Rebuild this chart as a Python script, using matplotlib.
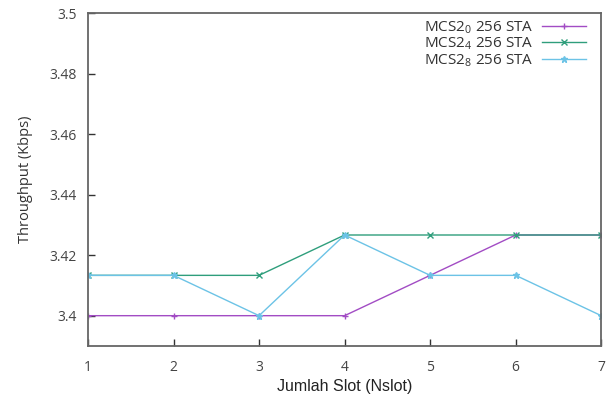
import matplotlib.pyplot as plt

# throughput per number of slots, 256 stations
slots = [1, 2, 3, 4, 5, 6, 7]
mcs0 = [3.4, 3.4, 3.4, 3.4, 3.41333, 3.42667, 3.42667]
mcs4 = [3.41333, 3.41333, 3.41333, 3.42667, 3.42667, 3.42667, 3.42667]
mcs8 = [3.41333, 3.41333, 3.4, 3.42667, 3.41333, 3.41333, 3.4]

labels = ['MCS2$_0$ 256 STA', 'MCS2$_4$ 256 STA', 'MCS2$_8$ 256 STA']
colors = ['#a24cc4', '#2f9e7c', '#6cc3e6']
markers = ['+', 'x', '*']
yticks = [3.4, 3.42, 3.44, 3.46, 3.48, 3.5]

plt.rcParams['font.family'] = ['Open Sans', 'DejaVu Sans']
plt.rcParams['mathtext.fontset'] = 'custom'
plt.rcParams['mathtext.rm'] = 'Open Sans'

fig = plt.figure(figsize=(6.11, 3.99), dpi=100)
ax = fig.add_axes([0.144, 0.133, 0.84, 0.834])

for ys, lab, c, m in zip([mcs0, mcs4, mcs8], labels, colors, markers):
    ax.plot(slots, ys, color=c, marker=m, markersize=5, linewidth=1.0,
            markeredgewidth=1.0, label=lab)

ax.set_xlim(1, 7)
ax.set_ylim(3.39, 3.5)
ax.set_xticks(slots)
ax.set_yticks(yticks)
ax.set_yticklabels([f'{v:g}' for v in yticks])
ax.tick_params(direction='in', length=5, width=1, labelsize=10, colors='#333333',
               labelcolor='#444444')
ax.tick_params(axis='x', pad=10)
ax.tick_params(axis='y', pad=8)
for s in ax.spines.values():
    s.set_color('#666666')
    s.set_linewidth(1.3)

ax.set_xlabel('Jumlah Slot (Nslot)', family='Liberation Sans', fontsize=11.5,
              color='#222222', labelpad=3)
ax.set_ylabel('Throughput (Kbps)', fontsize=10.5, color='#333333', labelpad=12)

ax.legend(loc='upper right', bbox_to_anchor=(586 / 611, 1 - 19 / 399),
          bbox_transform=fig.transFigure, frameon=False, markerfirst=False,
          fontsize=11, handlelength=2.9, labelspacing=0.0, borderaxespad=0,
          borderpad=0, handletextpad=0.5, labelcolor='#333333')

fig.savefig('out.png', dpi=100)
